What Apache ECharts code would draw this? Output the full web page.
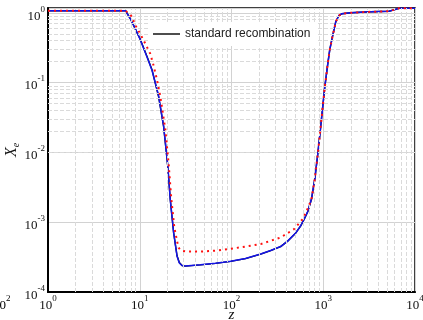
<!DOCTYPE html>
<html>
<head>
<meta charset="utf-8">
<script src="https://cdn.jsdelivr.net/npm/echarts@6/dist/echarts.min.js"></script>
<style>
  html, body { margin: 0; padding: 0; background: #fff; }
  #chart { width: 423px; height: 320px; }
</style>
</head>
<body>
<div id="chart"></div>
<script>
// Ionization fraction X_e against redshift z
const stdZ = [1, 2, 4, 7.0, 7.25, 8.0, 8.9, 10.1, 12.0, 13.6, 16.0, 18.2, 20.2, 21.5, 23.4,
  25.5, 27.0, 28.9, 31.4, 46, 67, 98, 142, 208, 267, 343, 409, 500, 568, 628,
  677, 744, 808, 871, 927, 980, 1038, 1111, 1178, 1262, 1370, 1476, 1593, 2000, 3300,
  5200, 5900, 6700, 10000];
const stdXe = [1.07, 1.07, 1.07, 1.07, 1.05, 0.80, 0.593, 0.421, 0.236, 0.153, 0.0637, 0.0238, 0.00637, 0.00213, 7.12e-4,
  3.30e-4, 2.64e-4, 2.39e-4, 2.35e-4, 2.45e-4, 2.57e-4, 2.75e-4, 3.01e-4, 3.49e-4, 3.92e-4, 4.47e-4, 5.35e-4, 6.97e-4, 8.85e-4, 1.14e-3,
  1.41e-3, 2.13e-3, 4.11e-3, 9.36e-3, 0.020, 0.0411, 0.0848, 0.171, 0.296, 0.458, 0.744, 0.906, 0.968, 1.0, 1.033,
  1.05, 1.10, 1.16, 1.16];

const blueZ = stdZ;
const blueXe = [1.07, 1.07, 1.07, 1.07, 1.05, 0.79, 0.60, 0.415, 0.232, 0.150, 0.066, 0.0235, 0.0065, 0.0021, 7.0e-4,
  3.25e-4, 2.60e-4, 2.40e-4, 2.36e-4, 2.46e-4, 2.58e-4, 2.76e-4, 3.02e-4, 3.50e-4, 3.93e-4, 4.48e-4, 5.36e-4, 6.98e-4, 8.90e-4, 1.15e-3,
  1.42e-3, 2.15e-3, 4.15e-3, 9.4e-3, 0.0202, 0.0413, 0.085, 0.172, 0.297, 0.46, 0.745, 0.907, 0.968, 1.0, 1.033,
  1.05, 1.10, 1.16, 1.16];

const redZ = [1, 2, 4, 7.0, 7.3, 8.2, 8.9, 10.1, 11.5, 13.0, 14.05, 15.4, 16.75, 19.0, 20.6,
  22.1, 23.8, 25.5, 26.5, 28.1, 32.8, 46, 70, 105, 208, 343, 480, 593, 672, 744,
  808, 871, 927, 980, 1038, 1111, 1178, 1262, 1370, 1476, 1593, 2000, 3300, 5200, 5900,
  6700, 10000];
const redXe = [1.07, 1.07, 1.07, 1.07, 1.05, 0.885, 0.674, 0.501, 0.361, 0.260, 0.181, 0.110, 0.0637, 0.0213, 0.00713,
  0.00213, 8.48e-4, 5.35e-4, 4.32e-4, 3.92e-4, 3.79e-4, 3.80e-4, 3.92e-4, 4.21e-4, 4.85e-4, 6.04e-4, 7.94e-4, 1.10e-3, 1.53e-3, 2.13e-3,
  4.11e-3, 9.36e-3, 0.020, 0.0411, 0.0848, 0.171, 0.296, 0.458, 0.744, 0.906, 0.968, 1.0, 1.033, 1.05, 1.10,
  1.16, 1.16];

const legendName = 'standard recombination';
const xDecades = [0, 1, 2, 3];
const yDecades = [-4, -3, -2, -1];
const minorSteps = [2, 3, 4, 5, 6, 7, 8, 9];

const pairs = (xs, ys) => xs.map((x, i) => [x, ys[i]]);

// dashed minor grid at 2..9 of every decade
const minorLines = [];
xDecades.forEach(d => minorSteps.forEach(k => minorLines.push({ xAxis: k * Math.pow(10, d) })));
yDecades.forEach(d => minorSteps.forEach(k => minorLines.push({ yAxis: k * Math.pow(10, d) })));

const serif = 'Liberation Serif';
const tickRich = {
  b: { fontFamily: serif, fontSize: 13, lineHeight: 23, color: '#111', verticalAlign: 'middle' },
  s: { fontFamily: serif, fontSize: 9, lineHeight: 9, color: '#111', verticalAlign: 'top' }
};
function powLabel(v) {
  const l = Math.log10(v);
  const e = Math.round(l);
  if (Math.abs(l - e) > 1e-6) return '';
  return '{b|10}{s|' + e + '}';
}

const chart = echarts.init(document.getElementById('chart'), null, { renderer: 'canvas' });
chart.setOption({
  animation: false,
  backgroundColor: '#fff',
  grid: {
    left: 48, right: 8, top: 8, bottom: 28,
    containLabel: false, outerBoundsMode: 'none',
    show: true, borderColor: '#000', borderWidth: 1.5, backgroundColor: 'transparent'
  },
  legend: {
    data: [legendName],
    left: 150, top: 22, padding: [6, 6, 6, 3],
    backgroundColor: '#fff', z: 10,
    icon: 'rect', itemWidth: 27, itemHeight: 1.4,
    textStyle: { fontFamily: 'Liberation Sans', fontSize: 12, color: '#222' }
  },
  xAxis: {
    type: 'log', logBase: 10, min: 1, max: 10000,
    name: 'z', nameLocation: 'middle', nameGap: 16, nameMoveOverlap: false,
    nameTextStyle: { fontFamily: serif, fontStyle: 'italic', fontSize: 15, color: '#111' },
    axisLine: { show: true, lineStyle: { color: '#000', width: 2 } },
    axisTick: { show: false },
    axisLabel: { formatter: powLabel, rich: tickRich, margin: 2 },
    splitLine: { show: true, lineStyle: { color: '#d2d2d2', width: 1 } }
  },
  yAxis: {
    type: 'log', logBase: 10, min: 1e-4, max: 1.17,
    name: '{x|X}{e|e}', nameLocation: 'middle', nameRotate: 90, nameGap: 27, nameMoveOverlap: false,
    nameTextStyle: {
      rich: {
        x: { fontFamily: serif, fontStyle: 'italic', fontSize: 16, lineHeight: 19, color: '#111', verticalAlign: 'middle' },
        e: { fontFamily: serif, fontStyle: 'italic', fontSize: 10, lineHeight: 10, color: '#111', verticalAlign: 'bottom' }
      }
    },
    axisLine: { show: true, lineStyle: { color: '#000', width: 2 } },
    axisTick: { show: false },
    axisLabel: { formatter: powLabel, rich: tickRich, margin: 3, padding: [7, 0, 0, 0] },
    splitLine: { show: true, lineStyle: { color: '#d2d2d2', width: 1 } }
  },
  graphic: [{
    type: 'text', x: -7, y: 294, silent: true,
    style: { text: '{b|10}{s|2}', rich: tickRich, verticalAlign: 'top', align: 'left' }
  }],
  series: [
    {
      type: 'line', z: 1, data: [[1, 1e-4]], symbol: 'none', silent: true,
      lineStyle: { width: 0 },
      markLine: {
        silent: true, symbol: ['none', 'none'], label: { show: false },
        lineStyle: { color: '#dadada', width: 1, type: [4, 2] },
        emphasis: { disabled: true },
        data: minorLines
      }
    },
    {
      name: legendName, type: 'line', data: pairs(stdZ, stdXe), symbol: 'none', z: 3,
      lineStyle: { color: '#000', width: 1.4 }, itemStyle: { color: '#000' }
    },
    {
      name: 'blue', type: 'line', data: pairs(blueZ, blueXe), symbol: 'none', z: 4,
      lineStyle: { color: '#1414e8', width: 1.5 }
    },
    {
      name: 'red', type: 'line', data: pairs(redZ, redXe), symbol: 'none', z: 5,
      lineStyle: { color: '#ff1010', width: 2, type: [2, 4] }
    }
  ]
});
</script>
</body>
</html>
